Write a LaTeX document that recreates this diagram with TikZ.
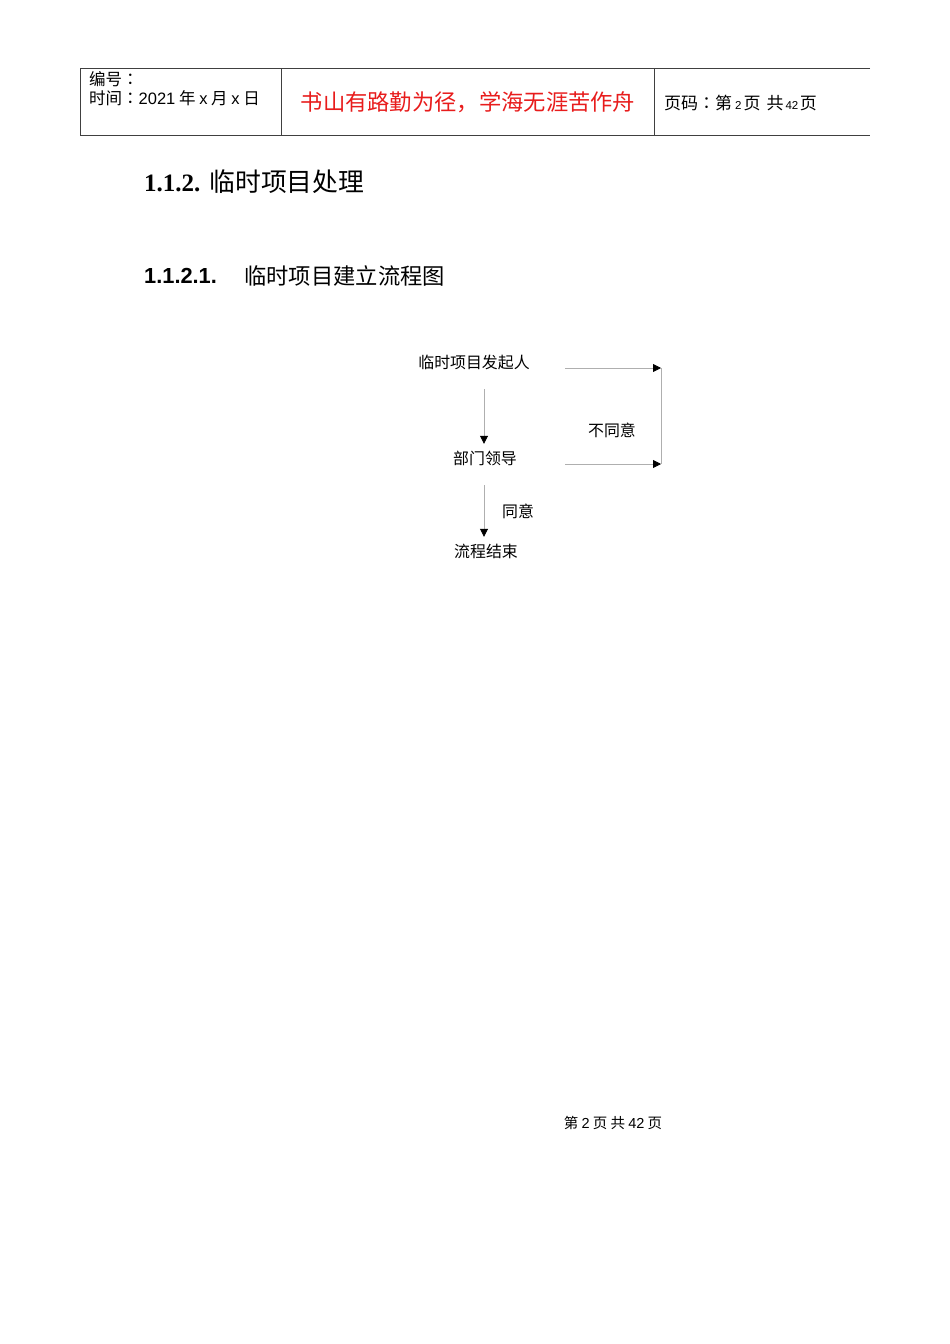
\documentclass[tikz,border=0pt]{standalone}
\usepackage{fontspec}
\setmainfont{Liberation Sans}
\newfontfamily\cjk{Noto Sans CJK SC}
\newfontfamily\cjktc{Noto Sans CJK TC}
\newfontfamily\serifb{Liberation Serif}
\newcommand\fwcolon{{\cjktc ：}}
\newcommand\lat[1]{{\fontspec{Liberation Sans}#1}}
\newcommand\smalldig[1]{{\fontspec{Liberation Sans}\fontsize{11.5}{13}\selectfont #1}}
\usetikzlibrary{arrows.meta}
\definecolor{redtxt}{RGB}{232,28,28}
\definecolor{linegray}{RGB}{175,175,175}
\begin{document}
\begin{tikzpicture}[x=1pt,y=-1pt,
  txt/.style={inner sep=0pt, text height=12pt, text depth=3pt, font=\cjk\fontsize{15.9}{18}\selectfont},
  hdr/.style={inner sep=0pt, anchor=west, font=\cjk\fontsize{16.5}{19}\selectfont},
  flow/.style={draw=linegray, line width=0.8pt, -{Triangle[color=black,length=8pt,width=8pt]}},
  plain/.style={draw=linegray, line width=0.8pt},
  rule/.style={draw=black!75, line width=0.8pt}]
\useasboundingbox[fill=white] (0,0) rectangle (950,1344);

% header table
\coordinate (tl) at (80,68);
\coordinate (tr) at (870,68);
\coordinate (bl) at (80,135);
\coordinate (br) at (870,135);
\coordinate (v1t) at (281,68);
\coordinate (v1b) at (281,135);
\coordinate (v2t) at (654,68);
\coordinate (v2b) at (654,135);
\draw[rule] (tr) -- (tl) -- (bl) -- (br);
\draw[rule] (v1t) -- (v1b);
\draw[rule] (v2t) -- (v2b);

\node[hdr] (h1) at (89,79) {编号\fwcolon};
\node[hdr] (h2) at (89,98) {时间\fwcolon\lat{2021} 年 \lat{x} 月 \lat{x} 日};
\node[inner sep=0pt, text=redtxt, font=\cjk\fontsize{22.3}{26}\selectfont] (motto) at (468,102) {书山有路勤为径，学海无涯苦作舟};
\node[hdr, font=\cjk\fontsize{17}{19}\selectfont] (h3) at (664,103)
  {页码\fwcolon 第\hspace{3pt}\smalldig{2}\hspace{2pt}页\hspace{6pt}共\hspace{2pt}\smalldig{42}\hspace{1.5pt}页};

% headings
\node[inner sep=0pt, anchor=west] (sec) at (144,182)
  {{\serifb\bfseries\fontsize{25}{30}\selectfont 1.1.2.}\hspace{9pt}{\cjk\fontsize{25.8}{30}\selectfont 临时项目处理}};
\node[inner sep=0pt, anchor=west] (subnum) at (144,276)
  {\bfseries\fontsize{21.8}{26}\selectfont 1.1.2.1.};
\node[inner sep=0pt, anchor=west, font=\cjk\fontsize{22.3}{26}\selectfont] (subtitle) at (244,276) {临时项目建立流程图};

% flowchart
\node[txt] (n1) at (474,364) {临时项目发起人};
\node[txt] (n2) at (485,460) {部门领导};
\node[txt] (n3) at (486,553) {流程结束};
\node[txt] (lno) at (612,432) {不同意};
\node[txt] (lyes) at (518,513) {同意};

\coordinate (s1) at (565,368);
\coordinate (c1) at (661,368);
\coordinate (s2) at (565,464);
\coordinate (c2) at (661,464);
\coordinate (vx) at (484,0);

\draw[plain] (c1) -- (c2);
\draw[flow] (s1) -- (c1);
\draw[flow] (s2) -- (c2);
\draw[flow, shorten <=17.5pt, shorten >=8.5pt] (n1.south -| vx) -- (n2.north -| vx);
\draw[flow, shorten <=17.5pt, shorten >=8.5pt] (n2.south -| vx) -- (n3.north -| vx);

% footer
\node[inner sep=0pt, font=\cjk\fontsize{14.5}{17}\selectfont] (foot) at (613,1123)
  {第 \lat{2} 页 共 \lat{42} 页};
\end{tikzpicture}
\end{document}
